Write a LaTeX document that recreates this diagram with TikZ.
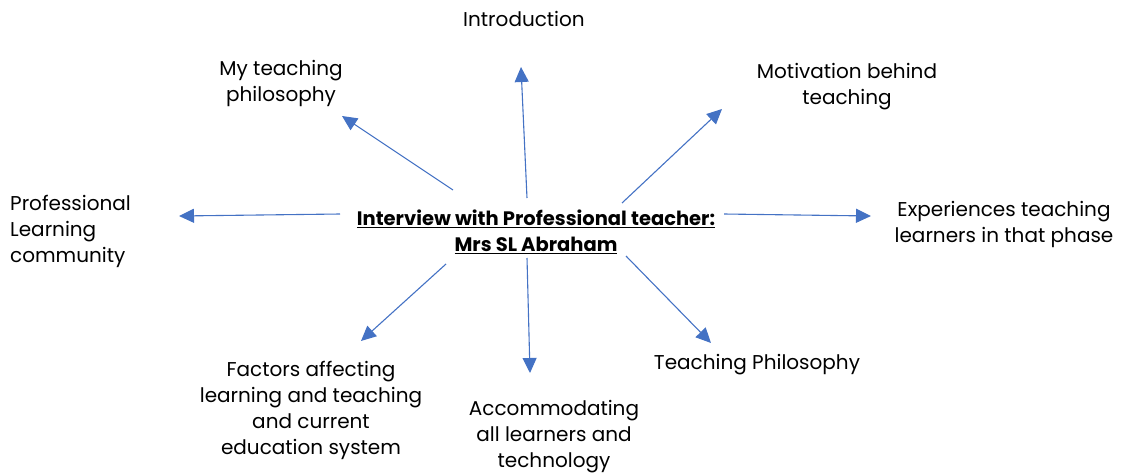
\documentclass[tikz,border=0pt]{standalone}
\usepackage{fontspec}
\setmainfont{Poppins}
\usepackage{tikz}
\usetikzlibrary{arrows.meta}
\definecolor{arrowblue}{HTML}{4472C4}

\begin{document}
\begin{tikzpicture}[x=1pt,y=-1pt,inner sep=0pt,
  topic/.style={align=center,font=\fontsize{20}{26}\selectfont},
  spoke/.style={draw=arrowblue,line width=1.1pt,-{Triangle[length=15pt,width=14pt]}}]
\useasboundingbox (0,0) rectangle (1127,474);
%Centre title
\node at (536,232) [topic,font=\fontsize{19.5}{26}\selectfont\bfseries] (Title)
  {\underline{Interview with Professional teacher:}\\\underline{Mrs SL Abraham}};
%Topics
\node at (524,19) [topic] (Intro) {Introduction};
\node at (281,83) [topic] (MyPhil) {My teaching\\philosophy};
\node at (847,87) [topic] (Motiv) {Motivation behind\\teaching};
\node at (10,231) [topic,anchor=west,align=left] (PLC) {Professional\\Learning\\community};
\node at (1004,224) [topic] (Exper) {Experiences teaching\\learners in that phase};
\node at (757,365) [topic] (TeachPhil) {Teaching Philosophy};
\node at (311,410) [topic] (Factors) {Factors affecting\\learning and teaching\\and current\\education system};
\node at (554,437) [topic] (Accom) {Accommodating\\all learners and\\technology};
%Arrow ends
\coordinate (IntroA) at (527,198);  \coordinate (IntroB) at (521,67);
\coordinate (MyPhilA) at (453,190); \coordinate (MyPhilB) at (342,116);
\coordinate (MotivA) at (622,203);  \coordinate (MotivB) at (722,109);
\coordinate (PLCA) at (340,214);    \coordinate (PLCB) at (179,216);
\coordinate (ExperA) at (724,214);  \coordinate (ExperB) at (871,216);
\coordinate (FactorsA) at (446,264); \coordinate (FactorsB) at (361,341);
\coordinate (AccomA) at (527,258);  \coordinate (AccomB) at (530,373);
\coordinate (TeachPhilA) at (626,256); \coordinate (TeachPhilB) at (711,343);
%connections
\draw [spoke] (IntroA) -- (IntroB);
\draw [spoke] (MyPhilA) -- (MyPhilB);
\draw [spoke] (MotivA) -- (MotivB);
\draw [spoke] (PLCA) -- (PLCB);
\draw [spoke] (ExperA) -- (ExperB);
\draw [spoke] (FactorsA) -- (FactorsB);
\draw [spoke] (AccomA) -- (AccomB);
\draw [spoke] (TeachPhilA) -- (TeachPhilB);
\end{tikzpicture}
\end{document}
